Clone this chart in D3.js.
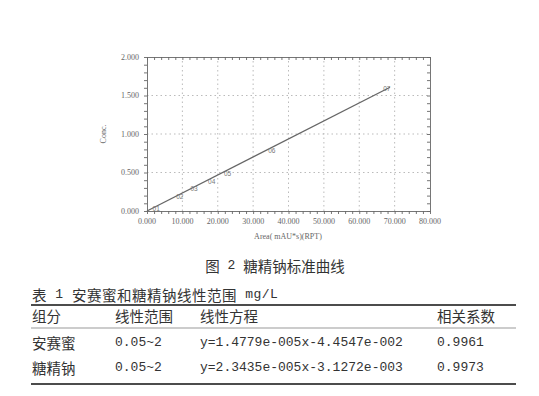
<!DOCTYPE html>
<html>
<head>
<meta charset="utf-8">
<script src="https://cdn.jsdelivr.net/npm/d3@7"></script>
<style>
  body { margin: 0; background: #fff; }
  svg { display: block; }
  text { white-space: pre; }
</style>
</head>
<body>
<svg id="chart"></svg>
<script>
// standard points
var areas = [2300, 9000, 13000, 18000, 22500, 35000, 67500];
var concs = [0.05, 0.2, 0.3, 0.4, 0.5, 0.8, 1.6];
var pointLabels = ["01", "02", "03", "04", "05", "06", "07"];
var slope = 2.3435e-5;
var intercept = -3.1272e-3;
var lineEnd = 68700;

var xTicks = [0, 10000, 20000, 30000, 40000, 50000, 60000, 70000, 80000];
var xTickLabels = ["0.000", "10.000", "20.000", "30.000", "40.000", "50.000", "60.000", "70.000", "80.000"];
var yTicks = [0, 0.5, 1, 1.5, 2];
var yTickLabels = ["0.000", "0.500", "1.000", "1.500", "2.000"];

var caption = "图 2 糖精钠标准曲线";
var tableTitle = "表 1 安赛蜜和糖精钠线性范围 mg/L";
var headers = ["组分", "线性范围", "线性方程", "相关系数"];
var groups = ["安赛蜜", "糖精钠"];
var ranges = ["0.05~2", "0.05~2"];
var equations = ["y=1.4779e-005x-4.4547e-002", "y=2.3435e-005x-3.1272e-003"];
var coefs = ["0.9961", "0.9973"];

var W = 539, H = 396;
var svg = d3.select("#chart").attr("width", W).attr("height", H);

var x = d3.scaleLinear().domain([0, 80000]).range([147, 430]);
var y = d3.scaleLinear().domain([0, 2]).range([211, 57]);

var grey = "#666";
var labelCol = "#666";

// grid
svg.append("g").selectAll("line").data(xTicks.slice(1, -1)).enter().append("line")
  .attr("x1", function(d){return x(d);}).attr("x2", function(d){return x(d);})
  .attr("y1", y(0)).attr("y2", y(2))
  .attr("stroke", "#aaa").attr("stroke-width", 0.8).attr("stroke-dasharray", "1.5,3");
svg.append("g").selectAll("line").data(yTicks.slice(1, -1)).enter().append("line")
  .attr("y1", function(d){return y(d);}).attr("y2", function(d){return y(d);})
  .attr("x1", x(0)).attr("x2", x(80000))
  .attr("stroke", "#aaa").attr("stroke-width", 0.8).attr("stroke-dasharray", "1.5,3");

// axes
var xMinor = d3.range(0, 80001, 2000);
var yMinor = d3.range(0, 2.0001, 0.1);

var xAxis = d3.axisBottom(x).tickValues(xMinor).tickSize(3).tickSizeOuter(0).tickFormat("");
var xAxisTop = d3.axisTop(x).tickValues(xMinor).tickSize(-3).tickSizeOuter(0).tickFormat("");
var yAxis = d3.axisLeft(y).tickValues(yMinor).tickSize(3).tickSizeOuter(0).tickFormat("");
var yAxisRight = d3.axisRight(y).tickValues(yMinor).tickSize(-3).tickSizeOuter(0).tickFormat("");

function styleAxis(g) {
  g.selectAll("path, line").attr("stroke", grey).attr("stroke-width", 0.9);
}
svg.append("g").attr("transform", "translate(0," + y(0) + ")").call(xAxis).call(styleAxis);
svg.append("g").attr("transform", "translate(0," + y(2) + ")").call(xAxisTop).call(styleAxis);
svg.append("g").attr("transform", "translate(" + x(0) + ",0)").call(yAxis).call(styleAxis);
svg.append("g").attr("transform", "translate(" + x(80000) + ",0)").call(yAxisRight).call(styleAxis);

// tick labels
svg.append("g").selectAll("text").data(xTicks).enter().append("text")
  .attr("x", function(d){return x(d);}).attr("y", y(0) + 13)
  .attr("text-anchor", "middle")
  .attr("font-family", "Liberation Serif").attr("font-size", 8).attr("fill", labelCol)
  .text(function(d, i){return xTickLabels[i];});
svg.append("g").selectAll("text").data(yTicks).enter().append("text")
  .attr("x", x(0) - 8).attr("y", function(d){return y(d) + 2.5;})
  .attr("text-anchor", "end")
  .attr("font-family", "Liberation Serif").attr("font-size", 8).attr("fill", labelCol)
  .text(function(d, i){return yTickLabels[i];});

// axis titles
svg.append("text").attr("transform", "translate(106,134) rotate(-90)")
  .attr("text-anchor", "middle")
  .attr("font-family", "Liberation Serif").attr("font-size", 8).attr("fill", labelCol)
  .text("Conc.");
svg.append("text").attr("x", 288).attr("y", 239)
  .attr("text-anchor", "middle")
  .attr("font-family", "Liberation Serif").attr("font-size", 8).attr("fill", labelCol)
  .text("Area( mAU*s)(RPT)");

// regression line
var line = d3.line().x(function(d){return x(d);}).y(function(d){return y(Math.max(0, slope * d + intercept));});
svg.append("path").datum([0, lineEnd]).attr("d", line)
  .attr("fill", "none").attr("stroke", "#666").attr("stroke-width", 1.3);

// points
var pts = svg.append("g").selectAll("g").data(areas).enter().append("g")
  .attr("transform", function(d, i){return "translate(" + x(d) + "," + y(concs[i]) + ")";});
pts.append("text").attr("x", 1).attr("y", 1)
  .attr("text-anchor", "middle").attr("dominant-baseline", "central")
  .attr("font-family", "Liberation Sans").attr("font-size", 6.5).attr("fill", "#777")
  .text(function(d, i){return pointLabels[i];});

// mixed CJK/latin text
var cjk = /[\u3000-\u9fff\uff00-\uffef]/;
function mixed(sel, str, cjkSize, latSize) {
  var runs = [];
  for (var i = 0; i < str.length; i++) {
    var c = cjk.test(str[i]);
    if (runs.length && runs[runs.length - 1].c === c) runs[runs.length - 1].s += str[i];
    else runs.push({c: c, s: str[i]});
  }
  runs.forEach(function(r){
    sel.append("tspan")
      .attr("font-family", r.c ? "Noto Sans CJK SC" : "Liberation Mono")
      .attr("font-size", r.c ? cjkSize : latSize)
      .text(r.s);
  });
}
function addText(px, py, str, anchor, spacing) {
  var t = svg.append("text").attr("x", px).attr("y", py)
    .attr("dominant-baseline", "central")
    .attr("text-anchor", anchor || "start")
    .attr("letter-spacing", spacing || 0)
    .attr("fill", "#333");
  mixed(t, str, 14.5, 13);
  return t;
}

addText(275, 265, caption, "middle");
addText(32, 294, tableTitle, "start", 0.5);

// table
var colX = [32, 115, 200, 437];
var ruleX = [31, 516];
svg.append("line").attr("x1", ruleX[0]).attr("x2", ruleX[1]).attr("y1", 305).attr("y2", 305)
  .attr("stroke", "#111").attr("stroke-width", 1.4);
svg.append("line").attr("x1", ruleX[0]).attr("x2", ruleX[1]).attr("y1", 328).attr("y2", 328)
  .attr("stroke", "#999").attr("stroke-width", 1);
svg.append("line").attr("x1", ruleX[0]).attr("x2", ruleX[1]).attr("y1", 384).attr("y2", 384)
  .attr("stroke", "#111").attr("stroke-width", 1.4);

headers.forEach(function(h, i){ addText(colX[i], 315, h); });
var rowY = [342, 367];
groups.forEach(function(g, r){
  addText(colX[0], rowY[r], g);
  addText(colX[1], rowY[r], ranges[r]);
  addText(colX[2], rowY[r], equations[r]);
  addText(colX[3], rowY[r], coefs[r]);
});
</script>
</body>
</html>
